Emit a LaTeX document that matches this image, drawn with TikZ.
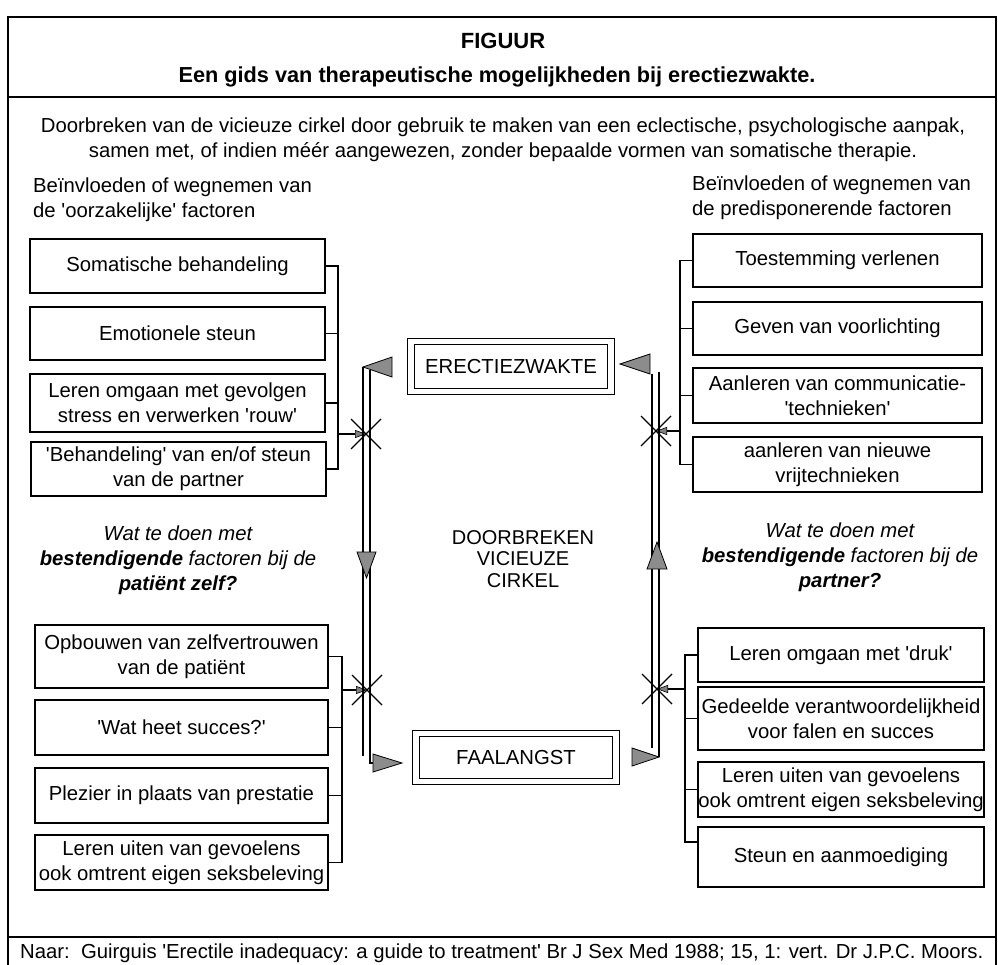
\documentclass[tikz,border=0pt]{standalone}
\usepackage{fontspec}
\setmainfont{Liberation Sans}
\usetikzlibrary{arrows.meta}
\newcommand\fsz{\fontsize{20.3}{25}\selectfont}
\newcommand\sq{\textquotesingle}
\tikzset{
  txt/.style={font=\fsz, align=center, inner sep=0pt},
  ltxt/.style={font=\fsz, align=left, inner sep=0pt, anchor=west},
  box/.style={draw, line width=1.1pt, txt, minimum width=#1, minimum height=20pt},
  dbox/.style={draw, line width=1.1pt, double, double distance=5.5pt, txt},
  frame/.style={line width=1.6pt},
  br/.style={line width=1.1pt},
  dbl/.style={line width=1.1pt},
  crossline/.style={line width=1.1pt},
  sarr/.style={line width=1.1pt, -{Triangle[length=11pt,width=8pt,fill=black!50,line width=0.6pt]}},
  bigtip/.style={fill=black!45, draw=black, line width=0.8pt, line join=miter}
}
\begin{document}
\begin{tikzpicture}[x=1pt,y=-1pt]
\useasboundingbox (0,0) rectangle (998,965);
\begin{scope}
\clip (0,0) rectangle (998,965);
\draw[frame] (8,17) rectangle (996,990);
\end{scope}
\draw[frame] (8,97) -- (996,97);
\draw[frame] (8,937) -- (996,937);

% header
\node[txt, font=\fontsize{22}{25}\selectfont\bfseries] (fig) at (503,41) {FIGUUR};
\node[txt, font=\fontsize{21.7}{25}\selectfont\bfseries] (title) at (497,77) {Een gids van therapeutische mogelijkheden bij erectiezwakte.};
\node[txt] (intro) at (503,140) {Doorbreken van de vicieuze cirkel door gebruik te maken van een eclectische, psychologische aanpak,\\samen met, of indien méér aangewezen, zonder bepaalde vormen van somatische therapie.};
\node[ltxt] (hl) at (33,200) {Beïnvloeden of wegnemen van\\de \sq oorzakelijke\sq{} factoren};
\node[ltxt] (hr) at (692,198) {Beïnvloeden of wegnemen van\\de predisponerende factoren};

% left top boxes
\node[box=295pt, minimum height=54pt] (L1) at (177.5,266) {Somatische behandeling};
\node[box=295pt, minimum height=53pt] (L2) at (177.5,333.5) {Emotionele steun};
\node[box=295pt, minimum height=58pt] (L3) at (177.5,403) {Leren omgaan met gevolgen\\stress en verwerken \sq rouw\sq};
\node[box=295pt, minimum height=54pt] (L4) at (178.5,469) {\sq Behandeling\sq{} van en/of steun\\van de partner};

% left bottom boxes
\node[box=293pt, minimum height=63pt] (B1) at (181.5,656.5) {Opbouwen van zelfvertrouwen\\van de patiënt};
\node[box=293pt, minimum height=55pt] (B2) at (181.5,727.5) {\sq Wat heet succes?\sq};
\node[box=293pt, minimum height=55pt] (B3) at (181.5,795.5) {Plezier in plaats van prestatie};
\node[box=293pt, minimum height=55pt] (B4) at (181.5,862.5) {Leren uiten van gevoelens\\ook omtrent eigen seksbeleving};

% right top boxes
\node[box=289pt, minimum height=53pt] (R1) at (837.5,260.5) {Toestemming verlenen};
\node[box=289pt, minimum height=53pt] (R2) at (837.5,328.5) {Geven van voorlichting};
\node[box=289pt, minimum height=55pt] (R3) at (837.5,395.5) {Aanleren van communicatie-\\\sq technieken\sq};
\node[box=289pt, minimum height=55pt] (R4) at (837.5,464.5) {aanleren van nieuwe\\vrijtechnieken};

% right bottom boxes
\node[box=286pt, minimum height=54pt] (S1) at (841,655) {Leren omgaan met \sq druk\sq};
\node[box=286pt, minimum height=63pt] (S2) at (841,718.5) {Gedeelde verantwoordelijkheid\\voor falen en succes};
\node[box=286pt, minimum height=55pt] (S3) at (841,789.5) {Leren uiten van gevoelens\\ook omtrent eigen seksbeleving};
\node[box=286pt, minimum height=60pt] (S4) at (841,857) {Steun en aanmoediging};

% italic texts
\node[txt, font=\fsz\itshape] (ql) at (178,560) {Wat te doen met\\\textbf{bestendigende} factoren bij de\\\textbf{patiënt zelf?}};
\node[txt, font=\fsz\itshape] (qr) at (840,557) {Wat te doen met\\\textbf{bestendigende} factoren bij de\\\textbf{partner?}};

% centre
\node[dbox, minimum width=200pt, minimum height=50pt] (E) at (511,366.5) {ERECTIEZWAKTE};
\node[dbox, minimum width=200pt, minimum height=48pt] (F) at (516,757.5) {FAALANGST};
\node[txt, font=\fontsize{20}{21.5}\selectfont] (dv) at (523,559) {DOORBREKEN\\VICIEUZE\\CIRKEL};

% crosses
\coordinate (cL1) at (366,434);
\coordinate (cL2) at (367,690);
\coordinate (cR1) at (656,431);
\coordinate (cR2) at (657,689);
\foreach \c in {cL1,cL2,cR1,cR2}{
  \draw[crossline] ([shift={(-15,-15)}]\c) -- ([shift={(15,15)}]\c);
  \draw[crossline] ([shift={(-15,15)}]\c) -- ([shift={(15,-15)}]\c);
}

% brackets
\coordinate (bL1) at (338,434);
\draw[br] (L1.east) -| (bL1);
\draw[br] (L4.east) -| (bL1);
\draw[br] (L2.east) -- (L2.east -| bL1);
\draw[br] (L3.east) -- (L3.east -| bL1);
\draw[sarr] (bL1) -- (cL1);

\coordinate (bL2) at (342,690);
\draw[br] (B1.east) -| (bL2);
\draw[br] (B4.east) -| (bL2);
\draw[br] (B2.east) -- (B2.east -| bL2);
\draw[br] (B3.east) -- (B3.east -| bL2);
\draw[sarr] (bL2) -- (cL2);

\coordinate (bR1) at (680,431);
\draw[br] (R1.west) -| (bR1);
\draw[br] (R4.west) -| (bR1);
\draw[br] (R2.west) -- (R2.west -| bR1);
\draw[br] (R3.west) -- (R3.west -| bR1);
\draw[sarr] (bR1) -- (cR1);

\coordinate (bR2) at (685,689);
\draw[br] (S1.west) -| (bR2);
\draw[br] ([yshift=15pt]S4.west) -| (bR2);
\draw[br] (S2.west) -- (S2.west -| bR2);
\draw[br] (S3.west) -- (S3.west -| bR2);
\draw[sarr] (bR2) -- (cR2);

% vicious circle, left side (E -> F)
\coordinate (la1) at (363,367);
\coordinate (la2) at (363,756);
\coordinate (lb1) at (370,370);
\coordinate (lb2) at (370,763);
\draw[dbl] (la1) -- (la2);
\draw[dbl] (lb1) -- (lb2) -- ++(4,0);
\filldraw[bigtip] (la1) -- (392,357) -- (392,377) -- cycle;
\filldraw[bigtip] (357,552) -- (376,552) -- (366.5,578) -- cycle;
\filldraw[bigtip] (373,754) -- (402,763) -- (373,772) -- cycle;

% right side (F -> E)
\coordinate (ra1) at (652,374);
\coordinate (ra2) at (652,748);
\coordinate (rb1) at (659,372);
\coordinate (rb2) at (659,757);
\draw[dbl] (ra1) -- (ra2);
\draw[dbl] (rb1) -- (rb2);
\filldraw[bigtip] (620,364) -- (650,354) -- (650,374) -- cycle;
\filldraw[bigtip] (647,569) -- (667,569) -- (657,542) -- cycle;
\filldraw[bigtip] (632,748) -- (rb2) -- (632,766) -- cycle;

% footnote
\node[ltxt] (foot) at (20,953) {Naar:\ \ Guirguis \sq Erectile inadequacy: a guide to treatment\sq{} Br J Sex Med 1988; 15, 1: vert. Dr J.P.C. Moors.};
\end{tikzpicture}
\end{document}
